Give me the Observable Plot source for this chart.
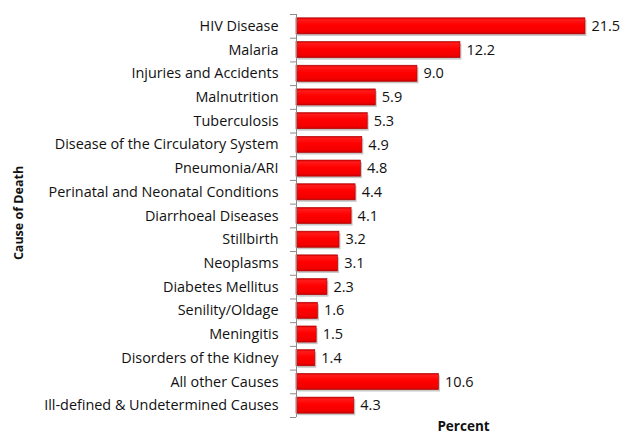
<!DOCTYPE html>
<html>
<head>
<meta charset="utf-8">
<script src="https://cdn.jsdelivr.net/npm/d3@7"></script>
<script src="https://cdn.jsdelivr.net/npm/@observablehq/plot@0.6"></script>
<style>
  html, body { margin: 0; padding: 0; background: #fff; }
  #chart svg { display: block; }
</style>
</head>
<body>
<div id="chart"></div>
<script>
const causes = [
  "HIV Disease",
  "Malaria",
  "Injuries and Accidents",
  "Malnutrition",
  "Tuberculosis",
  "Disease of the Circulatory System",
  "Pneumonia/ARI",
  "Perinatal and Neonatal Conditions",
  "Diarrhoeal Diseases",
  "Stillbirth",
  "Neoplasms",
  "Diabetes Mellitus",
  "Senility/Oldage",
  "Meningitis",
  "Disorders of the Kidney",
  "All other Causes",
  "Ill-defined & Undetermined Causes"
];
const percents = [21.5, 12.2, 9.0, 5.9, 5.3, 4.9, 4.8, 4.4, 4.1, 3.2, 3.1, 2.3, 1.6, 1.5, 1.4, 10.6, 4.3];
const xTitle = "Percent";
const yTitle = "Cause of Death";

const data = causes.map((c, i) => ({cause: c, value: percents[i]}));

const W = 624, H = 435;
const mL = 296, mT = 14, mB = 18;
const step = (H - mT - mB) / causes.length;
const font = "'Open Sans', sans-serif";

const plot = Plot.plot({
  width: W,
  height: H,
  marginLeft: mL,
  marginRight: 0,
  marginTop: mT,
  marginBottom: mB,
  style: {fontFamily: font, fontSize: "14px", color: "#000", background: "#fff"},
  x: {domain: [0, 25], range: [mL, 632]},
  y: {domain: causes, paddingInner: 0.32, paddingOuter: 0.16, round: false},
  marks: [
    // shadows
    Plot.barX(data, {x: "value", y: "cause", fill: "#9a9a9a", fillOpacity: 0.55, dx: 1.5, dy: 2}),
    // bars
    Plot.barX(data, {x: "value", y: "cause", fill: "url(#barGrad)", stroke: "#b00000", strokeWidth: 0.6}),
    // value labels
    Plot.text(data, {x: "value", y: "cause", text: d => d.value.toFixed(1), dx: 6, textAnchor: "start", fontSize: 14.5, fill: "#111"}),
    // axis line
    Plot.ruleX([0], {stroke: "#8c8c8c", strokeWidth: 1}),
    // category labels
    Plot.axisY({tickSize: 0, tickPadding: 18, label: null, fontSize: 14.4, fill: "#111"}),
    // tick marks at band boundaries
    Plot.axisY(causes, {tickSize: 6, tickFormat: () => "", dy: -step / 2, label: null, stroke: "#8c8c8c"}),
    Plot.axisY([causes[causes.length - 1]], {tickSize: 6, tickFormat: () => "", dy: step / 2, label: null, stroke: "#8c8c8c"}),
    // x title
    Plot.axisX({ticks: [], tickSize: 0, label: null}),
    Plot.text([xTitle], {frameAnchor: "bottom", dy: 9, dx: 3, text: d => d, fontWeight: "bold", fontSize: 13.5, lineAnchor: "middle", fill: "#111"}),
    // y title
    Plot.text([yTitle], {frameAnchor: "left", rotate: -90, dx: -278, dy: -3, textAnchor: "middle", text: d => d, fontWeight: "bold", fontSize: 12.5, fill: "#111"})
  ]
});

const svg = d3.select(plot);
const defs = svg.insert("defs", ":first-child");
const g = defs.append("linearGradient").attr("id", "barGrad")
  .attr("x1", 0).attr("y1", 0).attr("x2", 0).attr("y2", 1);
g.append("stop").attr("offset", "0%").attr("stop-color", "#d00000");
g.append("stop").attr("offset", "12%").attr("stop-color", "#ff1a1a");
g.append("stop").attr("offset", "45%").attr("stop-color", "#ff0000");
g.append("stop").attr("offset", "85%").attr("stop-color", "#f20000");
g.append("stop").attr("offset", "100%").attr("stop-color", "#c80000");

document.getElementById("chart").appendChild(plot);
</script>
</body>
</html>
